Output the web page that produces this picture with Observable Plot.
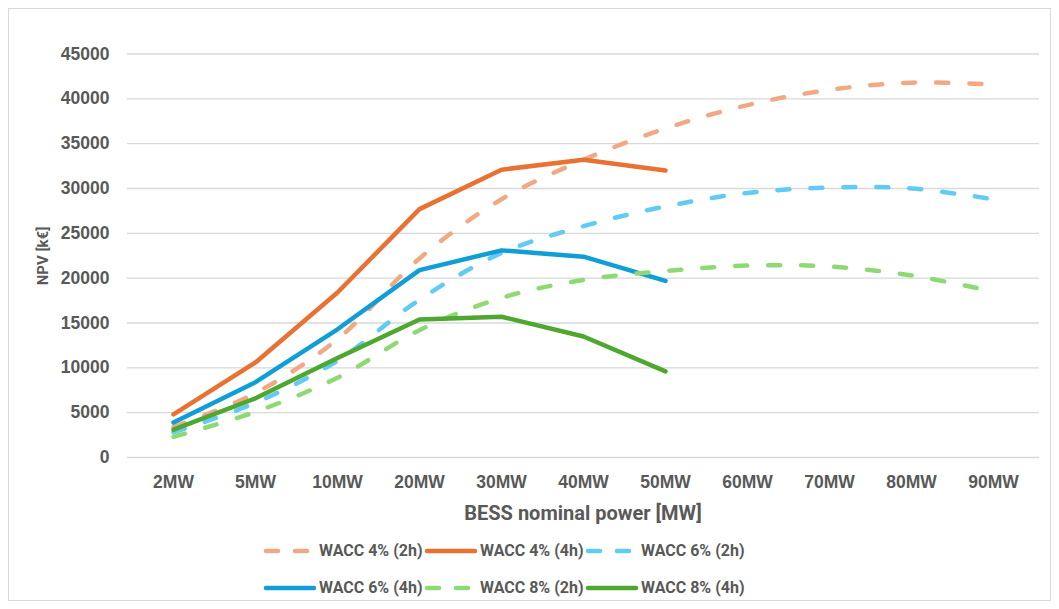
<!DOCTYPE html>
<html>
<head>
<meta charset="utf-8">
<script src="https://cdn.jsdelivr.net/npm/d3@7"></script>
<script src="https://cdn.jsdelivr.net/npm/@observablehq/plot@0.6"></script>
<style>
  body { margin: 0; background: #ffffff; }
  #wrap { position: relative; width: 1059px; height: 609px; overflow: hidden; font-family: Roboto, "Liberation Sans", sans-serif; color: #595959; }
  #frame { position: absolute; left: 8px; top: 8px; width: 1043px; height: 593px; border: 1px solid #d9d9d9; box-sizing: border-box; }
  #chart { position: absolute; left: 0; top: 0; }
  .title { position: absolute; white-space: nowrap; font-weight: 700; color: #595959; line-height: 1; }
  #xtitle { left: 583px; top: 513px; transform: translate(-50%, -50%); font-size: 20px; }
  #ytitle { left: 43px; top: 256px; transform: translate(-50%, -50%) rotate(-90deg); font-size: 15px; }
  #legend { position: absolute; left: 262px; top: 532px; display: grid; grid-template-columns: 161px 161px 161px; grid-auto-rows: 37px; }
  .item { display: flex; align-items: center; white-space: nowrap; }
  .item svg { flex: none; }
  .item span { margin-left: 3px; font-size: 16px; font-weight: 700; color: #595959; }
</style>
</head>
<body>
<div id="wrap">
  <div id="frame"></div>
  <div id="chart"></div>
  <div id="xtitle" class="title">BESS nominal power [MW]</div>
  <div id="ytitle" class="title">NPV [k€]</div>
  <div id="legend"></div>
</div>
<script>
// BESS nominal power categories (x axis)
const categories = ["2MW", "5MW", "10MW", "20MW", "30MW", "40MW", "50MW", "60MW", "70MW", "80MW", "90MW"];

// NPV [k€] per scenario
const wacc4_2h = [3400, 7200, 13200, 22200, 28800, 33200, 36700, 39300, 41000, 41800, 41600];
const wacc4_4h = [4800, 10600, 18400, 27700, 32100, 33200, 32000];
const wacc6_2h = [2800, 6100, 10800, 17600, 22800, 25800, 28000, 29500, 30100, 30000, 28800];
const wacc6_4h = [3900, 8400, 14300, 20900, 23100, 22400, 19700];
const wacc8_2h = [2300, 5100, 8900, 14200, 17800, 19800, 20800, 21400, 21300, 20300, 18500];
const wacc8_4h = [3100, 6600, 11100, 15400, 15700, 13500, 9600];

const seriesNames = ["WACC 4% (2h)", "WACC 4% (4h)", "WACC 6% (2h)", "WACC 6% (4h)", "WACC 8% (2h)", "WACC 8% (4h)"];
const seriesValues = [wacc4_2h, wacc4_4h, wacc6_2h, wacc6_4h, wacc8_2h, wacc8_4h];
const seriesColors = ["#F1A983", "#E97132", "#61CBF3", "#0F9ED5", "#8ED973", "#4EA72E"];
const seriesDashed = [true, false, true, false, true, false];

const yTicks = [0, 5000, 10000, 15000, 20000, 25000, 30000, 35000, 40000, 45000];

const textColor = "#595959";
const gridColor = "#d9d9d9";

// one line per scenario: 2h runs are smoothed and dashed, 4h runs are straight and solid
const lineMarks = seriesNames.map((name, i) => {
  const rows = seriesValues[i].map((v, j) => ({category: categories[j], npv: v, series: name}));
  return Plot.line(rows, {
    x: "category",
    y: "npv",
    stroke: seriesColors[i],
    strokeWidth: 4.5,
    strokeLinecap: "round",
    strokeLinejoin: "round",
    strokeDasharray: seriesDashed[i] ? "12,21" : null,
    curve: seriesDashed[i] ? "catmull-rom" : "linear"
  });
});

const chart = Plot.plot({
  width: 1059,
  height: 530,
  marginLeft: 127,
  marginRight: 20,
  marginTop: 53.5,
  marginBottom: 73,
  style: {background: "transparent", color: textColor, fontFamily: "'Liberation Sans', Arial, sans-serif", overflow: "visible"},
  x: {type: "point", domain: categories, padding: 0.5, label: null},
  y: {domain: [0, 45000], ticks: yTicks, label: null},
  marks: [
    Plot.ruleY(yTicks, {stroke: gridColor, strokeWidth: 1.3}),
    ...lineMarks,
    Plot.axisX({tickSize: 0, tickPadding: 18, fontSize: 17.5, fontWeight: "bold", fill: textColor, label: null}),
    Plot.axisY({ticks: yTicks, tickSize: 0, tickPadding: 18, fontSize: 17.5, fontWeight: "bold", fill: textColor, tickFormat: d3.format("d"), label: null})
  ]
});
document.getElementById("chart").appendChild(chart);

// legend: swatch + name, three per row
const legend = d3.select("#legend");
seriesNames.forEach((name, i) => {
  const item = legend.append("div").attr("class", "item");
  const sw = item.append("svg").attr("width", 54).attr("height", 12);
  sw.append("line")
    .attr("x1", 4).attr("x2", 52).attr("y1", 6).attr("y2", 6)
    .attr("stroke", seriesColors[i])
    .attr("stroke-width", 4.5)
    .attr("stroke-linecap", "round")
    .attr("stroke-dasharray", seriesDashed[i] ? "12,17" : null);
  item.append("span").text(name);
});
</script>
</body>
</html>
